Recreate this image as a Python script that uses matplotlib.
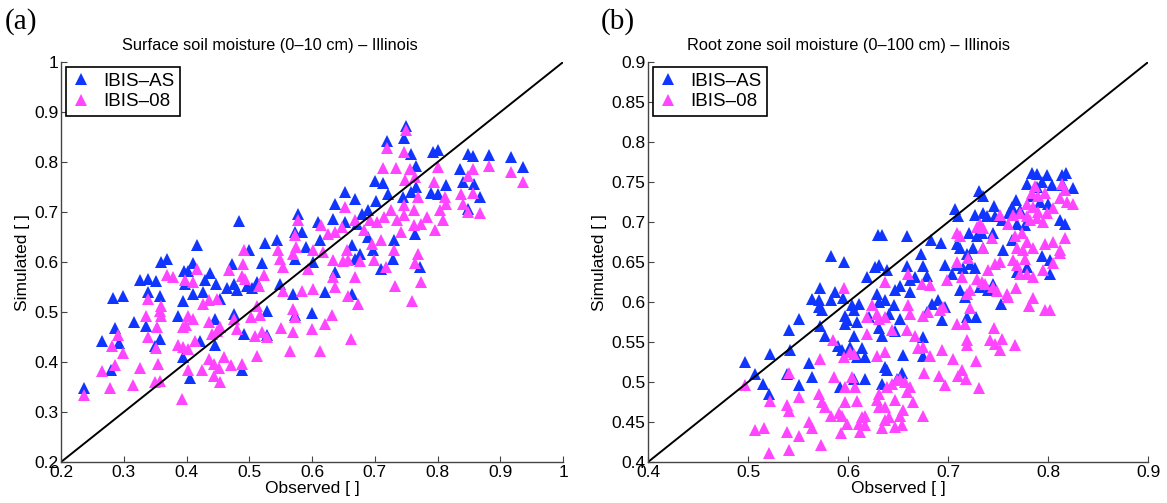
import matplotlib
matplotlib.use('Agg')
import matplotlib.pyplot as plt
import numpy as np

plt.rcParams['font.family'] = ['Liberation Sans', 'DejaVu Sans']

# (a) Surface soil moisture, pairs of (observed, simulated)
surf_as = [
    (0.236, 0.349), (0.283, 0.529), (0.299, 0.533), (0.326, 0.565), (0.339, 0.566), (0.352, 0.563),
    (0.338, 0.540), (0.358, 0.533), (0.316, 0.481), (0.286, 0.469), (0.266, 0.442), (0.293, 0.438),
    (0.279, 0.385), (0.336, 0.473), (0.357, 0.447), (0.350, 0.433), (0.387, 0.493), (0.394, 0.523),
    (0.396, 0.583), (0.403, 0.582), (0.410, 0.598), (0.397, 0.557), (0.410, 0.537), (0.422, 0.443),
    (0.394, 0.411), (0.405, 0.368), (0.430, 0.565), (0.438, 0.578), (0.447, 0.557), (0.427, 0.540),
    (0.453, 0.527), (0.445, 0.487), (0.445, 0.435), (0.464, 0.549), (0.472, 0.597), (0.475, 0.557),
    (0.480, 0.545), (0.491, 0.457), (0.475, 0.497), (0.488, 0.385), (0.496, 0.553), (0.504, 0.549),
    (0.512, 0.560), (0.520, 0.598), (0.528, 0.503), (0.529, 0.455), (0.549, 0.557), (0.569, 0.537),
    (0.573, 0.495), (0.600, 0.498), (0.573, 0.607), (0.602, 0.600),
    (0.484, 0.683), (0.416, 0.634), (0.359, 0.601), (0.369, 0.607), (0.525, 0.639), (0.544, 0.645),
    (0.578, 0.697), (0.573, 0.661), (0.584, 0.661), (0.610, 0.681), (0.590, 0.631), (0.499, 0.624),
    (0.750, 0.872), (0.720, 0.843), (0.746, 0.849), (0.757, 0.817), (0.793, 0.821), (0.801, 0.825),
    (0.849, 0.816), (0.857, 0.812), (0.882, 0.814), (0.917, 0.811), (0.936, 0.791), (0.765, 0.792),
    (0.835, 0.787), (0.701, 0.763), (0.713, 0.759), (0.652, 0.741), (0.668, 0.727), (0.636, 0.716),
    (0.679, 0.697), (0.689, 0.705), (0.702, 0.723), (0.721, 0.736), (0.745, 0.731), (0.758, 0.741),
    (0.766, 0.751), (0.790, 0.739), (0.801, 0.736), (0.814, 0.754), (0.841, 0.761), (0.858, 0.756),
    (0.867, 0.731), (0.848, 0.707), (0.633, 0.687), (0.612, 0.644), (0.652, 0.681), (0.671, 0.677),
    (0.663, 0.634), (0.676, 0.616), (0.689, 0.651), (0.697, 0.624), (0.710, 0.587), (0.729, 0.607),
    (0.731, 0.644), (0.764, 0.657), (0.772, 0.591), (0.636, 0.581),
    (0.620, 0.540), (0.663, 0.537), (0.668, 0.607),
]
surf_08 = [
    (0.236, 0.335), (0.291, 0.455), (0.282, 0.432), (0.298, 0.418), (0.286, 0.395), (0.266, 0.382),
    (0.278, 0.349), (0.315, 0.355), (0.326, 0.389), (0.338, 0.527), (0.336, 0.493), (0.339, 0.451),
    (0.353, 0.471), (0.354, 0.397), (0.350, 0.361), (0.358, 0.363), (0.351, 0.429), (0.360, 0.513),
    (0.358, 0.503), (0.360, 0.493), (0.369, 0.575), (0.378, 0.571), (0.387, 0.435), (0.395, 0.430),
    (0.403, 0.427), (0.394, 0.470), (0.399, 0.475), (0.403, 0.493), (0.410, 0.487), (0.392, 0.327),
    (0.403, 0.385), (0.424, 0.385), (0.414, 0.443), (0.416, 0.587), (0.411, 0.560), (0.397, 0.565),
    (0.427, 0.517), (0.435, 0.525), (0.448, 0.527), (0.435, 0.481), (0.435, 0.407), (0.444, 0.373),
    (0.453, 0.360), (0.444, 0.397), (0.452, 0.389), (0.459, 0.411), (0.471, 0.395), (0.440, 0.457),
    (0.448, 0.463), (0.454, 0.471), (0.475, 0.487), (0.480, 0.467), (0.467, 0.585), (0.488, 0.573),
    (0.493, 0.567), (0.490, 0.597), (0.488, 0.397), (0.502, 0.491), (0.512, 0.413), (0.517, 0.495),
    (0.509, 0.453), (0.520, 0.460), (0.528, 0.450), (0.524, 0.575), (0.515, 0.553), (0.512, 0.513),
    (0.553, 0.542), (0.551, 0.469), (0.570, 0.460), (0.565, 0.422), (0.570, 0.507), (0.573, 0.490),
    (0.584, 0.543), (0.602, 0.547), (0.600, 0.467), (0.593, 0.587), (0.549, 0.607), (0.570, 0.617),
    (0.613, 0.423),
    (0.578, 0.684), (0.573, 0.654), (0.492, 0.625), (0.546, 0.625), (0.575, 0.631), (0.602, 0.625),
    (0.554, 0.591),
    (0.750, 0.865), (0.720, 0.829), (0.746, 0.821), (0.713, 0.789), (0.733, 0.789), (0.756, 0.787),
    (0.800, 0.791), (0.794, 0.761), (0.748, 0.764), (0.764, 0.771), (0.857, 0.787), (0.849, 0.772),
    (0.882, 0.792), (0.917, 0.781), (0.936, 0.761), (0.838, 0.736), (0.857, 0.739), (0.841, 0.716),
    (0.849, 0.701), (0.868, 0.699), (0.652, 0.711), (0.812, 0.731), (0.814, 0.717), (0.804, 0.704),
    (0.809, 0.684), (0.796, 0.664), (0.783, 0.691), (0.773, 0.677), (0.762, 0.704), (0.746, 0.714),
    (0.746, 0.694), (0.725, 0.704), (0.714, 0.691), (0.703, 0.681), (0.769, 0.731), (0.692, 0.684),
    (0.683, 0.664), (0.668, 0.684), (0.647, 0.671), (0.636, 0.661), (0.626, 0.657), (0.615, 0.674),
    (0.617, 0.621), (0.633, 0.604), (0.655, 0.624), (0.657, 0.604), (0.676, 0.603), (0.695, 0.637),
    (0.710, 0.644), (0.699, 0.604), (0.731, 0.625), (0.741, 0.661), (0.718, 0.591), (0.769, 0.617),
    (0.764, 0.599), (0.668, 0.571), (0.633, 0.571), (0.736, 0.684), (0.762, 0.674),
    (0.773, 0.560), (0.732, 0.553), (0.760, 0.523), (0.657, 0.533), (0.673, 0.517), (0.636, 0.550),
    (0.632, 0.495), (0.620, 0.477), (0.662, 0.447), (0.649, 0.603),
]

# (b) Root zone soil moisture, pairs of (observed, simulated)
root_as = [
    (0.497, 0.525), (0.507, 0.510), (0.515, 0.498), (0.522, 0.535), (0.521, 0.485), (0.541, 0.565),
    (0.542, 0.540), (0.551, 0.579), (0.539, 0.510), (0.551, 0.496), (0.561, 0.524), (0.564, 0.506),
    (0.572, 0.617), (0.564, 0.604), (0.571, 0.603), (0.571, 0.594), (0.574, 0.590), (0.572, 0.570),
    (0.577, 0.557), (0.583, 0.657), (0.596, 0.650), (0.583, 0.603), (0.587, 0.612), (0.595, 0.605),
    (0.590, 0.545), (0.594, 0.540), (0.592, 0.494), (0.597, 0.583), (0.599, 0.577), (0.597, 0.573),
    (0.604, 0.596), (0.606, 0.590), (0.611, 0.598), (0.602, 0.544), (0.609, 0.531), (0.606, 0.504),
    (0.617, 0.504), (0.609, 0.575), (0.606, 0.558), (0.614, 0.543), (0.617, 0.531), (0.619, 0.631),
    (0.627, 0.644), (0.631, 0.646), (0.621, 0.581), (0.629, 0.610), (0.631, 0.600), (0.631, 0.567),
    (0.634, 0.558), (0.637, 0.519), (0.639, 0.515), (0.634, 0.498), (0.637, 0.602), (0.641, 0.585),
    (0.646, 0.596), (0.647, 0.615), (0.639, 0.640), (0.647, 0.564), (0.649, 0.504), (0.630, 0.684),
    (0.673, 0.660), (0.675, 0.645), (0.679, 0.633), (0.662, 0.628), (0.667, 0.631), (0.659, 0.645),
    (0.697, 0.646), (0.704, 0.635), (0.709, 0.646), (0.715, 0.642), (0.722, 0.648), (0.727, 0.642),
    (0.712, 0.615), (0.717, 0.606), (0.732, 0.619), (0.740, 0.615), (0.745, 0.623), (0.753, 0.598),
    (0.769, 0.637), (0.802, 0.635), (0.719, 0.660), (0.690, 0.602), (0.697, 0.594), (0.684, 0.598),
    (0.679, 0.588), (0.694, 0.577), (0.719, 0.581), (0.728, 0.581), (0.652, 0.579), (0.652, 0.620),
    (0.662, 0.613), (0.675, 0.556), (0.675, 0.532), (0.655, 0.534), (0.654, 0.511),
    (0.784, 0.761), (0.789, 0.760), (0.799, 0.759), (0.814, 0.759), (0.818, 0.761), (0.779, 0.748),
    (0.789, 0.744), (0.794, 0.750), (0.804, 0.746), (0.815, 0.746), (0.825, 0.742), (0.731, 0.739),
    (0.735, 0.732), (0.768, 0.728), (0.764, 0.719), (0.772, 0.715), (0.784, 0.732), (0.792, 0.725),
    (0.800, 0.723), (0.746, 0.720), (0.707, 0.716), (0.710, 0.708), (0.727, 0.709), (0.735, 0.711),
    (0.739, 0.707), (0.747, 0.707), (0.754, 0.703), (0.761, 0.711), (0.812, 0.702), (0.817, 0.698),
    (0.769, 0.698), (0.777, 0.696), (0.634, 0.684), (0.659, 0.683), (0.683, 0.678), (0.693, 0.674),
    (0.709, 0.673), (0.712, 0.667), (0.721, 0.686), (0.729, 0.682), (0.734, 0.686), (0.725, 0.667),
    (0.735, 0.667), (0.745, 0.686), (0.755, 0.665), (0.764, 0.678), (0.779, 0.644), (0.794, 0.657),
    (0.802, 0.652),
]
root_08 = [
    (0.497, 0.496), (0.507, 0.440), (0.516, 0.442), (0.521, 0.411), (0.522, 0.476), (0.541, 0.511),
    (0.539, 0.471), (0.541, 0.464), (0.539, 0.438), (0.541, 0.415), (0.551, 0.481), (0.551, 0.433),
    (0.561, 0.450), (0.564, 0.442), (0.571, 0.485), (0.574, 0.475), (0.577, 0.469), (0.573, 0.421),
    (0.572, 0.529), (0.583, 0.457), (0.585, 0.553), (0.586, 0.506), (0.591, 0.461), (0.594, 0.458),
    (0.593, 0.436), (0.596, 0.617), (0.597, 0.494), (0.597, 0.475), (0.596, 0.531), (0.602, 0.537),
    (0.606, 0.535), (0.599, 0.448), (0.604, 0.506), (0.607, 0.494), (0.609, 0.476), (0.611, 0.448),
    (0.612, 0.438), (0.614, 0.456), (0.617, 0.458), (0.617, 0.446), (0.619, 0.560), (0.619, 0.581),
    (0.624, 0.596), (0.629, 0.585), (0.631, 0.579), (0.637, 0.581), (0.629, 0.533), (0.637, 0.537),
    (0.629, 0.477), (0.631, 0.485), (0.631, 0.469), (0.637, 0.469), (0.637, 0.452), (0.641, 0.456),
    (0.634, 0.442), (0.637, 0.625), (0.639, 0.494), (0.644, 0.498), (0.649, 0.502), (0.644, 0.565),
    (0.647, 0.444),
    (0.812, 0.661), (0.805, 0.649), (0.795, 0.640), (0.779, 0.635), (0.785, 0.631), (0.772, 0.635),
    (0.768, 0.617), (0.760, 0.606), (0.759, 0.610), (0.749, 0.614), (0.745, 0.619), (0.752, 0.650),
    (0.747, 0.648), (0.765, 0.652), (0.769, 0.646), (0.777, 0.654), (0.785, 0.605), (0.781, 0.595),
    (0.797, 0.590), (0.802, 0.590), (0.740, 0.640), (0.729, 0.629), (0.734, 0.625), (0.737, 0.623),
    (0.722, 0.615), (0.719, 0.610), (0.722, 0.593), (0.717, 0.573), (0.709, 0.572), (0.746, 0.567),
    (0.742, 0.552), (0.747, 0.548), (0.754, 0.554), (0.752, 0.540), (0.767, 0.546), (0.719, 0.552),
    (0.719, 0.546), (0.728, 0.526), (0.705, 0.529), (0.714, 0.515), (0.710, 0.508), (0.718, 0.504),
    (0.731, 0.492), (0.691, 0.508), (0.697, 0.496), (0.676, 0.511), (0.694, 0.540), (0.682, 0.532),
    (0.675, 0.544), (0.670, 0.542), (0.667, 0.558), (0.659, 0.565), (0.675, 0.583), (0.680, 0.588),
    (0.662, 0.585), (0.660, 0.596), (0.699, 0.627), (0.709, 0.650), (0.714, 0.631), (0.682, 0.621),
    (0.674, 0.623), (0.660, 0.635), (0.652, 0.504), (0.657, 0.500), (0.662, 0.494), (0.659, 0.488),
    (0.665, 0.475), (0.647, 0.477), (0.655, 0.465), (0.652, 0.458), (0.675, 0.457), (0.654, 0.446),
    (0.692, 0.590), (0.695, 0.594),
    (0.814, 0.748), (0.817, 0.740), (0.787, 0.745), (0.784, 0.736), (0.790, 0.732), (0.797, 0.736),
    (0.812, 0.730), (0.819, 0.725), (0.825, 0.722), (0.779, 0.723), (0.785, 0.719), (0.790, 0.713),
    (0.799, 0.711), (0.772, 0.711), (0.779, 0.707), (0.782, 0.702), (0.789, 0.705), (0.795, 0.700),
    (0.805, 0.717), (0.765, 0.709), (0.760, 0.698), (0.752, 0.709), (0.732, 0.698), (0.729, 0.694),
    (0.735, 0.692), (0.709, 0.686), (0.712, 0.682), (0.744, 0.680), (0.735, 0.668), (0.767, 0.682),
    (0.774, 0.686), (0.779, 0.675), (0.769, 0.667), (0.775, 0.665), (0.785, 0.667), (0.797, 0.673),
    (0.805, 0.675), (0.817, 0.680), (0.812, 0.665), (0.720, 0.655),
]

surf_ticks = [0.2, 0.3, 0.4, 0.5, 0.6, 0.7, 0.8, 0.9, 1.0]
root_xticks = [0.4, 0.5, 0.6, 0.7, 0.8, 0.9]
root_yticks = [0.4, 0.45, 0.5, 0.55, 0.6, 0.65, 0.7, 0.75, 0.8, 0.85, 0.9]

blue = '#0f35ff'
magenta = '#ff45ff'

fig = plt.figure(figsize=(11.67, 5.03), dpi=100)
ax_a = fig.add_axes([0.0523, 0.0815, 0.4302, 0.795])
ax_b = fig.add_axes([0.5553, 0.0815, 0.4285, 0.795])


def draw(ax, s_as, s_08, xt, yt, title, title_x, tag, tag_x):
    xa, ya = zip(*s_as)
    xb, yb = zip(*s_08)
    ax.plot(xa, ya, '^', color=blue, ms=8.5, mew=0, label='IBIS\u2013AS')
    ax.plot(xb, yb, '^', color=magenta, ms=8.5, mew=0, label='IBIS\u201308')
    lo, hi = xt[0], xt[-1]
    ax.plot([lo, hi], [lo, hi], color='black', lw=1.4)
    ax.set_xlim(xt[0], xt[-1])
    ax.set_ylim(yt[0], yt[-1])
    ax.set_xticks(xt)
    ax.set_yticks(yt)
    ax.set_xticklabels(['%g' % v for v in xt])
    ax.set_yticklabels(['%g' % v for v in yt])
    ax.tick_params(direction='in', length=4, width=0.8, labelsize=12.5, pad=2, color='#444444')
    for side in ['top', 'right']:
        ax.spines[side].set_visible(False)
    for side in ['left', 'bottom']:
        ax.spines[side].set_color('#444444')
        ax.spines[side].set_linewidth(1.0)
    ax.set_xlabel('Observed [ ]', fontsize=12.5, labelpad=1)
    ax.set_ylabel('Simulated [ ]', fontsize=12.5, labelpad=3)
    ax.set_title(title, fontsize=11.8, pad=9, x=title_x)
    leg = ax.legend(loc='upper left', fontsize=13.5, fancybox=False, edgecolor='black',
                    framealpha=1, borderaxespad=0.25, handlelength=1.0, handletextpad=0.7,
                    borderpad=0.3, labelspacing=0.2, numpoints=1)
    leg.get_frame().set_linewidth(1.2)
    fig.text(tag_x, 0.957, tag, fontsize=21, family='Liberation Serif', va='center')


draw(ax_a, surf_as, surf_08, surf_ticks, surf_ticks,
     'Surface soil moisture (0\u201310 cm) \u2013 Illinois', 0.416, '(a)', 0.004)
draw(ax_b, root_as, root_08, root_xticks, root_yticks,
     'Root zone soil moisture (0\u2013100 cm) \u2013 Illinois', 0.40, '(b)', 0.515)

fig.savefig('out.png', dpi=100)
